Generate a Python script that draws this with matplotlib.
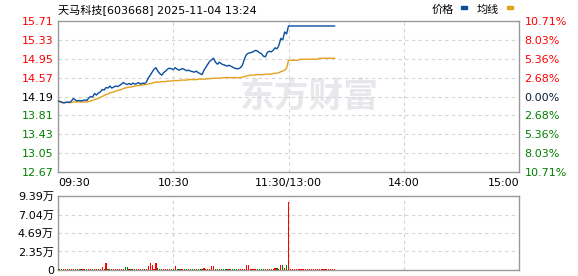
import numpy as np
import matplotlib
matplotlib.use('Agg')
import matplotlib.pyplot as plt
from matplotlib.patches import Rectangle
from matplotlib.transforms import blended_transform_factory

plt.rcParams['font.family'] = ['DejaVu Sans', 'Noto Sans CJK SC']

title = '天马科技[603668] 2025-11-04 13:24'
pre_close = 14.19

# 分时价格 (每分钟)
price = [14.10, 14.09, 14.07, 14.06, 14.07, 14.08, 14.07, 14.10, 14.15, 14.12,
         14.10, 14.11, 14.10, 14.11, 14.12, 14.11, 14.16, 14.19, 14.18, 14.25,
         14.22, 14.26, 14.28, 14.33, 14.32, 14.37, 14.36, 14.40, 14.36, 14.38,
         14.40, 14.39, 14.41, 14.44, 14.47, 14.45, 14.43, 14.45, 14.43, 14.46,
         14.44, 14.45, 14.47, 14.44, 14.46, 14.45, 14.48, 14.56, 14.62, 14.68,
         14.74, 14.77, 14.70, 14.65, 14.62, 14.67, 14.70, 14.74, 14.76, 14.75,
         14.73, 14.77, 14.74, 14.72, 14.74, 14.75, 14.73, 14.71, 14.72, 14.70,
         14.69, 14.68, 14.70, 14.67, 14.65, 14.63, 14.72, 14.78, 14.84, 14.90,
         14.93, 14.96, 14.88, 14.84, 14.88, 14.85, 14.83, 14.82, 14.80, 14.82,
         14.80, 14.78, 14.76, 14.75, 14.75, 14.77, 14.82, 14.94, 15.03, 15.06,
         15.07, 15.08, 15.10, 15.12, 15.10, 15.07, 15.05, 15.00, 14.99, 15.08,
         15.10, 15.09, 15.12, 15.17, 15.15, 15.22, 15.36, 15.33, 15.49, 15.45,
         15.61, 15.61, 15.61, 15.61, 15.61, 15.61, 15.61, 15.61, 15.61, 15.61,
         15.61, 15.61, 15.61, 15.61, 15.61, 15.61, 15.61, 15.61, 15.61, 15.61,
         15.61, 15.61, 15.61, 15.61, 15.61]

# 均价
avg = [14.10, 14.09, 14.08, 14.07, 14.07, 14.07, 14.07, 14.07, 14.08, 14.08,
       14.08, 14.08, 14.08, 14.08, 14.08, 14.08, 14.09, 14.10, 14.11, 14.13,
       14.14, 14.15, 14.17, 14.19, 14.21, 14.23, 14.24, 14.26, 14.27, 14.28,
       14.30, 14.31, 14.32, 14.33, 14.35, 14.36, 14.37, 14.38, 14.38, 14.39,
       14.40, 14.41, 14.41, 14.42, 14.42, 14.43, 14.43, 14.44, 14.45, 14.46,
       14.47, 14.48, 14.48, 14.48, 14.49, 14.49, 14.49, 14.50, 14.50, 14.50,
       14.51, 14.51, 14.51, 14.51, 14.52, 14.52, 14.52, 14.52, 14.53, 14.53,
       14.53, 14.53, 14.53, 14.54, 14.54, 14.54, 14.54, 14.54, 14.55, 14.55,
       14.55, 14.56, 14.56, 14.56, 14.56, 14.56, 14.57, 14.57, 14.57, 14.57,
       14.57, 14.57, 14.57, 14.57, 14.57, 14.57, 14.58, 14.59, 14.60, 14.61,
       14.62, 14.62, 14.62, 14.63, 14.63, 14.63, 14.63, 14.63, 14.64, 14.64,
       14.64, 14.64, 14.65, 14.66, 14.66, 14.67, 14.69, 14.70, 14.72, 14.76,
       14.92, 14.92, 14.92, 14.92, 14.92, 14.92, 14.94, 14.94, 14.94, 14.94,
       14.94, 14.94, 14.94, 14.94, 14.94, 14.94, 14.96, 14.96, 14.96, 14.96,
       14.96, 14.96, 14.96, 14.96, 14.96]

# 成交量 (万)
volume = [0.15, 0.10, 0.08, 0.10, 0.08, 0.10, 0.08, 0.09, 0.10, 0.08,
          0.10, 0.08, 0.09, 0.08, 0.10, 0.08, 0.10, 0.08, 0.10, 0.12,
          0.10, 0.08, 0.15, 0.42, 0.10, 0.85, 0.10, 0.08, 0.09, 0.10,
          0.08, 0.10, 0.08, 0.09, 0.10, 0.33, 0.33, 0.10, 0.08, 0.09,
          0.08, 0.10, 0.08, 0.09, 0.10, 0.08, 0.15, 0.55, 0.85, 0.63,
          0.10, 0.85, 0.20, 0.10, 0.08, 0.10, 0.08, 0.09, 0.10, 0.08,
          0.10, 0.46, 0.08, 0.10, 0.08, 0.09, 0.08, 0.10, 0.08, 0.09,
          0.08, 0.10, 0.08, 0.09, 0.10, 0.08, 0.20, 0.10, 0.08, 0.10,
          0.46, 0.46, 0.10, 0.08, 0.09, 0.08, 0.10, 0.08, 0.09, 0.08,
          0.10, 0.08, 0.09, 0.08, 0.10, 0.08, 0.10, 0.15, 0.67, 0.67,
          0.10, 0.08, 0.09, 0.10, 0.08, 0.09, 0.08, 0.10, 0.08, 0.12,
          0.10, 0.08, 0.10, 0.25, 0.20, 0.10, 0.67, 0.67, 0.25, 0.67,
          8.60, 0.08, 0.07, 0.08, 0.07, 0.08, 0.07, 0.08, 0.07, 0.08,
          0.07, 0.08, 0.07, 0.08, 0.07, 0.08, 0.07, 0.08, 0.07, 0.08,
          0.07, 0.08, 0.07, 0.08, 0.07]

price_ticks = [15.71, 15.33, 14.95, 14.57, 14.19, 13.81, 13.43, 13.05, 12.67]
pct_labels = ['10.71%', '8.03%', '5.36%', '2.68%', '0.00%',
              '2.68%', '5.36%', '8.03%', '10.71%']
vol_ticks = [0, 2.35, 4.69, 7.04, 9.39]
vol_labels = ['0', '2.35万', '4.69万', '7.04万', '9.39万']
time_pos = [0, 60, 120, 180, 240]
time_labels = ['09:30', '10:30', '11:30/13:00', '14:00', '15:00']

RED = '#ff0000'
GREEN = '#008000'
BLUE = '#0b4f9e'
GOLD = '#e1a21c'
BORDER = '#999999'
GRID = '#d4d4d4'

W, H = 578, 276
fig = plt.figure(figsize=(W / 100, H / 100), dpi=100)


def fx(px):
    return px / W


def fy(py):
    return 1 - py / H


ax = fig.add_axes([fx(58), fy(172), fx(519) - fx(58), fy(21) - fy(172)])
axv = fig.add_axes([fx(58), fy(270), fx(519) - fx(58), fy(196) - fy(270)])

x = np.arange(len(price))

# 主图
ax.plot(x, avg, color=GOLD, lw=1.0, zorder=3)
ax.plot(x, price, color=BLUE, lw=1.0, zorder=4)
ax.set_xlim(0, 240)
ax.set_ylim(price_ticks[-1], price_ticks[0])
ax.set_yticks(price_ticks)
ax.set_yticklabels(['%.2f' % v for v in price_ticks])
for lab, v in zip(ax.get_yticklabels(), price_ticks):
    if v > pre_close:
        lab.set_color(RED)
    elif v < pre_close:
        lab.set_color(GREEN)
    else:
        lab.set_color('black')
ax.tick_params(axis='y', length=0, pad=3, labelsize=8)
ax.set_xticks([])
for v in price_ticks[1:-1]:
    ax.axhline(v, color=GRID, lw=0.8, dashes=(3, 3), zorder=1)
for t in [60, 120, 180]:
    ax.axvline(t, color=GRID, lw=0.8, dashes=(3, 3), zorder=1)
for s in ax.spines.values():
    s.set_color(BORDER)
    s.set_linewidth(1.0)

# 右侧涨跌幅
ax2 = ax.twinx()
ax2.set_ylim(price_ticks[-1], price_ticks[0])
ax2.set_yticks(price_ticks)
ax2.set_yticklabels(pct_labels)
for lab, v in zip(ax2.get_yticklabels(), price_ticks):
    if v > pre_close:
        lab.set_color(RED)
    elif v < pre_close:
        lab.set_color(GREEN)
    else:
        lab.set_color('#0a1a3a')
ax2.tick_params(axis='y', length=0, pad=4, labelsize=8)
for s in ax2.spines.values():
    s.set_visible(False)

# 时间标签
trans = blended_transform_factory(ax.transData, ax.transAxes)
for t, lab in zip(time_pos, time_labels):
    ha = 'center'
    if t == 0:
        ha = 'left'
    elif t == 240:
        ha = 'right'
    ax.text(t, -0.04, lab, transform=trans, ha=ha, va='top', fontsize=8)

# 水印
ax.text(0.545, 0.5, '东方财富', transform=ax.transAxes, ha='center', va='center',
        fontsize=25, fontweight='bold', color='#e8e8ec', zorder=0,
        family=['Noto Sans CJK SC'])

# 成交量
colors = [RED]
for i in range(1, len(price)):
    colors.append(RED if price[i] >= price[i - 1] else GREEN)
axv.bar(x, volume, width=0.6, color=colors, zorder=3)
axv.set_xlim(0, 240)
axv.set_ylim(0, vol_ticks[-1])
axv.set_yticks(vol_ticks)
axv.set_yticklabels(vol_labels)
axv.tick_params(axis='y', length=0, pad=3, labelsize=8)
axv.set_xticks([])
for v in vol_ticks[1:-1]:
    axv.axhline(v, color=GRID, lw=0.8, dashes=(3, 3), zorder=1)
for t in [60, 120, 180]:
    axv.axvline(t, color=GRID, lw=0.8, dashes=(3, 3), zorder=1)
for s in axv.spines.values():
    s.set_color(BORDER)
    s.set_linewidth(1.0)

# 标题和图例
fig.text(fx(58), fy(10), title, ha='left', va='center', fontsize=8)
fig.text(fx(432), fy(10), '价格', ha='left', va='center', fontsize=8)
fig.add_artist(Rectangle((fx(461), fy(9)), fx(6), 2.5 / H, color=BLUE,
                         transform=fig.transFigure))
fig.text(fx(477), fy(10), '均线', ha='left', va='center', fontsize=8)
fig.add_artist(Rectangle((fx(507), fy(9)), fx(6), 2.5 / H, color=GOLD,
                         transform=fig.transFigure))

fig.savefig('out.png', dpi=100)
